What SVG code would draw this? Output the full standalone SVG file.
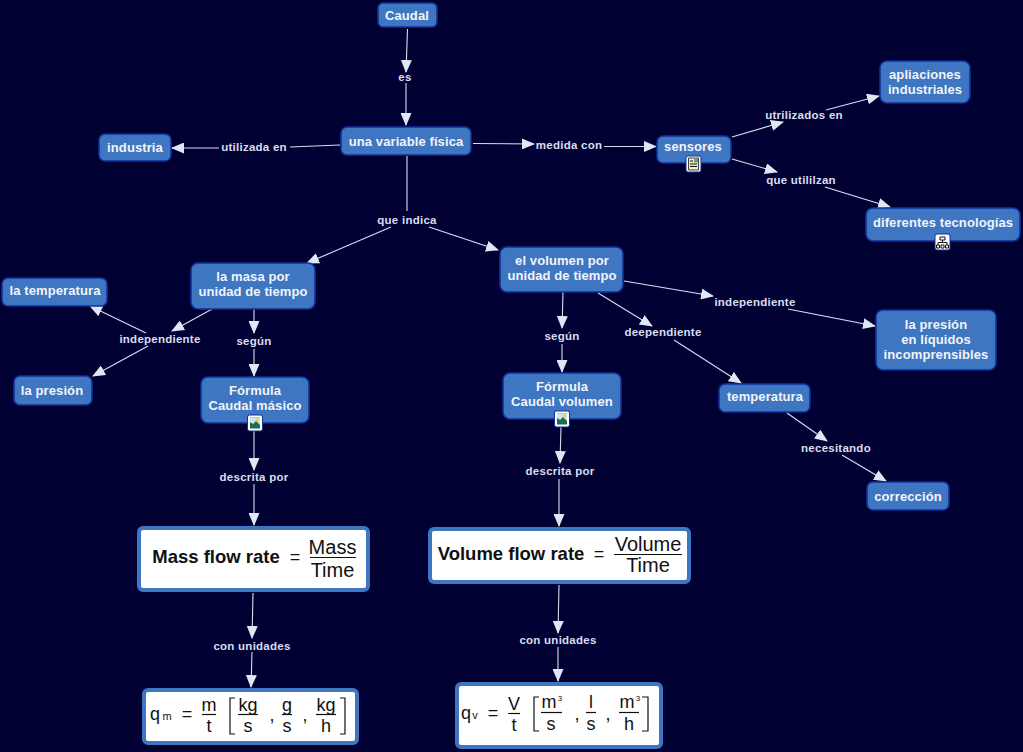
<svg xmlns="http://www.w3.org/2000/svg" width="1023" height="752" viewBox="0 0 1023 752">
<style>
text{font-family:"Liberation Sans",Arial,sans-serif;text-anchor:middle}
.n>rect{fill:#3e76c2;stroke:#12309a;stroke-width:1.6}
.n text{font-size:13px;font-weight:bold;fill:#f2f4f8;letter-spacing:.1px}
.l text{font-size:11.500px;font-weight:bold;fill:#d9deef;letter-spacing:.25px}
#connectors path{fill:none;stroke:#d5e0ee;stroke-width:1.1;marker-end:url(#a)}
#connectors path.p{marker-end:none}
.f rect{fill:#fff;stroke:#3e76c2;stroke-width:4}
.f text{fill:#111;font-size:18px}
.f .b{font-size:18.500px;font-weight:bold}
.f .big{font-size:20px}
.f line,.f path{stroke:#111;stroke-width:1.2;fill:none}
.n>rect.o,.o{fill:#fff;stroke:#12309a;stroke-width:1}
</style>
<defs>
<marker id="a" markerUnits="userSpaceOnUse" markerWidth="13" markerHeight="11" refX="12" refY="5.500" orient="auto"><path d="M0 0L13 5.500L0 11Z" fill="#dce8f4"/></marker>
<g id="pic"><rect class="o" x="-7.500" y="-8" width="15" height="16" rx="2"/><rect x="-5" y="-5.500" width="10" height="11" fill="#1c6b4a"/><path d="M-5 -5.500H5V2L1 -2L-2 1L-5 -1Z" fill="#cfe3f5"/><circle cx="2.500" cy="-3" r="1.800" fill="#f2cf3c"/></g>
</defs>
<rect width="1023" height="752" fill="#000033"/>
<g id="connectors">
<path d="M407.500 29L406 72"/><path d="M406 83V125"/>
<path class="p" d="M340 145L290 147"/><path d="M219 148H172"/>
<path d="M473 143.500L534 144"/><path d="M604 146.500H656"/>
<path d="M732 137L783 122"/><path d="M826 110L879 96"/>
<path d="M732 159L777 172"/><path d="M825 187L890 207"/>
<path class="p" d="M407 156V211"/><path d="M391 227L307 263"/><path d="M429 227L498 250"/>
<path d="M214 308L172 331"/><path d="M146 333L90 306"/><path d="M148 346L93 376"/>
<path d="M254 309V333"/><path d="M254 349V376"/>
<path d="M254 431V470"/><path d="M254 484V525"/>
<path d="M253 593L252 638"/><path d="M252 652L251 687"/>
<path d="M563 292L562 328"/><path d="M562 344V372"/>
<path d="M561 427L560 463"/><path d="M559 479V526"/>
<path d="M559 585L558 633"/><path d="M558 647V681"/>
<path d="M624 281L713 296"/><path d="M788 309L875 326"/>
<path d="M598 293L652 326"/><path d="M674 340L741 383"/>
<path d="M787 413L827 441"/><path d="M842 455L886 481"/>
</g>
<g class="l">
<text x="405" y="81">es</text>
<text x="254" y="151">utilizada en</text>
<text x="569" y="149">medida con</text>
<text x="804" y="119">utrilizados en</text>
<text x="801" y="184">que utililzan</text>
<text x="407" y="224">que indica</text>
<text x="160" y="343">independiente</text>
<text x="254" y="345">según</text>
<text x="254" y="481">descrita por</text>
<text x="252" y="650">con unidades</text>
<text x="562" y="340">según</text>
<text x="560" y="475">descrita por</text>
<text x="558" y="644">con unidades</text>
<text x="755" y="306">independiente</text>
<text x="663" y="336">deependiente</text>
<text x="836" y="452">necesitando</text>
</g>
<g class="n" id="caudal"><rect x="378" y="3" width="59" height="24" rx="5"/><text x="407" y="19.500">Caudal</text></g>
<g class="n" id="variable"><rect x="341" y="127" width="130" height="28" rx="6"/><text x="406" y="146">una variable física</text></g>
<g class="n" id="industria"><rect x="99" y="134" width="72" height="27" rx="6"/><text x="135" y="152">industria</text></g>
<g class="n" id="sensores"><rect x="657" y="136" width="74" height="27" rx="6"/><text x="693" y="151">sensores</text>
<rect class="o" x="686" y="156" width="15" height="16" rx="2"/><g><path d="M688.500 158h10v12h-10z" fill="#f4eeb0" stroke="#111" stroke-width=".8"/><path d="M690 161h3M690 164h7M690 166.500h7" stroke="#111" fill="none"/><path d="M694 158.500h4v4h-4z" fill="#6c9c8c"/></g></g>
<g class="n" id="aplicaciones"><rect x="880" y="61" width="90" height="42" rx="7"/><text x="925" y="79">apliaciones</text><text x="925" y="94">industriales</text></g>
<g class="n" id="tecnologias"><rect x="866" y="208" width="154" height="33" rx="7"/><text x="943" y="227">diferentes tecnologías</text>
<rect class="o" x="935" y="234" width="15" height="16" rx="2"/><path d="M940 237h5v3h-5zM942.500 240v2M938 245v-2.500h9v2.500M936.500 245h3v3h-3zM941 245h3v3h-3zM945.500 245h3v3h-3z" fill="none" stroke="#111" stroke-width="1"/></g>
<g class="n" id="masa"><rect x="191" y="263" width="124" height="46" rx="7"/><text x="253" y="281">la masa por</text><text x="253" y="296">unidad de tiempo</text></g>
<g class="n" id="volumen"><rect x="500" y="247" width="123" height="45" rx="7"/><text x="562" y="265">el volumen por</text><text x="562" y="280">unidad de tiempo</text></g>
<g class="n" id="temperatura1"><rect x="2" y="278" width="105" height="28" rx="6"/><text x="55" y="295">la temperatura</text></g>
<g class="n" id="presion1"><rect x="14" y="376" width="78" height="29" rx="6"/><text x="52" y="395">la presión</text></g>
<g class="n" id="fmasico"><rect x="201" y="377" width="108" height="46" rx="7"/><text x="255" y="395">Fórmula</text><text x="255" y="410">Caudal másico</text><use href="#pic" x="255" y="423"/></g>
<g class="n" id="fvolumen"><rect x="503" y="373" width="118" height="46" rx="7"/><text x="562" y="391">Fórmula</text><text x="562" y="406">Caudal volumen</text><use href="#pic" x="562" y="419"/></g>
<g class="n" id="temperatura2"><rect x="719" y="384" width="91" height="28" rx="6"/><text x="765" y="401">temperatura</text></g>
<g class="n" id="presion2"><rect x="876" y="310" width="120" height="60" rx="7"/><text x="936" y="329">la presión</text><text x="936" y="344">en líquidos</text><text x="936" y="359">incomprensibles</text></g>
<g class="n" id="correccion"><rect x="867" y="482" width="82" height="28" rx="6"/><text x="908" y="501">corrección</text></g>
<g class="f" id="massflow"><rect x="139" y="528" width="229" height="62" rx="4"/>
<text class="b" x="216" y="563">Mass flow rate</text><text x="295" y="563">=</text><text class="big" x="332.500" y="554">Mass</text><line x1="310" x2="356" y1="557.500" y2="557.500"/><text class="big" x="332.500" y="577">Time</text></g>
<g class="f" id="volumeflow"><rect x="430" y="529" width="259" height="53" rx="4"/>
<text class="b" x="511" y="560">Volume flow rate</text><text x="599" y="560">=</text><text class="big" x="648" y="551">Volume</text><line x1="614" x2="682" y1="554.500" y2="554.500"/><text class="big" x="648" y="572">Time</text></g>
<g class="f" id="qm"><rect x="144" y="690" width="213" height="53" rx="4"/>
<text x="155" y="720">q</text><text x="167" y="720" style="font-size:11px">m</text><text x="187" y="720">=</text>
<text x="209" y="711">m</text><line x1="202" x2="216" y1="714.500" y2="714.500"/><text x="209" y="732">t</text>
<path d="M235 698h-5v36h5M340 698h5v36h-5"/>
<text x="248" y="711">kg</text><line x1="238" x2="258" y1="714.500" y2="714.500"/><text x="248" y="732">s</text>
<text x="272" y="721">,</text>
<text x="287" y="711">g</text><line x1="282" x2="292" y1="714.500" y2="714.500"/><text x="287" y="732">s</text>
<text x="305" y="721">,</text>
<text x="326" y="711">kg</text><line x1="316" x2="336" y1="714.500" y2="714.500"/><text x="326" y="732">h</text></g>
<g class="f" id="qv"><rect x="457" y="684" width="204" height="63" rx="4"/>
<text x="466" y="719">q</text><text x="475" y="719" style="font-size:11px">v</text><text x="493" y="719">=</text>
<text x="514" y="710">V</text><line x1="508" x2="520" y1="713.500" y2="713.500"/><text x="514" y="731">t</text>
<path d="M539 697h-5v34h5M642 697h6v34h-6"/>
<text x="549" y="708">m</text><text x="560" y="701" style="font-size:8px">3</text><line x1="541" x2="562" y1="712.500" y2="712.500"/><text x="551" y="730">s</text>
<text x="577" y="720">,</text>
<text x="591" y="708">l</text><line x1="586" x2="596" y1="712.500" y2="712.500"/><text x="591" y="730">s</text>
<text x="608" y="720">,</text>
<text x="627" y="708">m</text><text x="638" y="701" style="font-size:8px">3</text><line x1="619" x2="639" y1="712.500" y2="712.500"/><text x="629" y="730">h</text></g>
</svg>
